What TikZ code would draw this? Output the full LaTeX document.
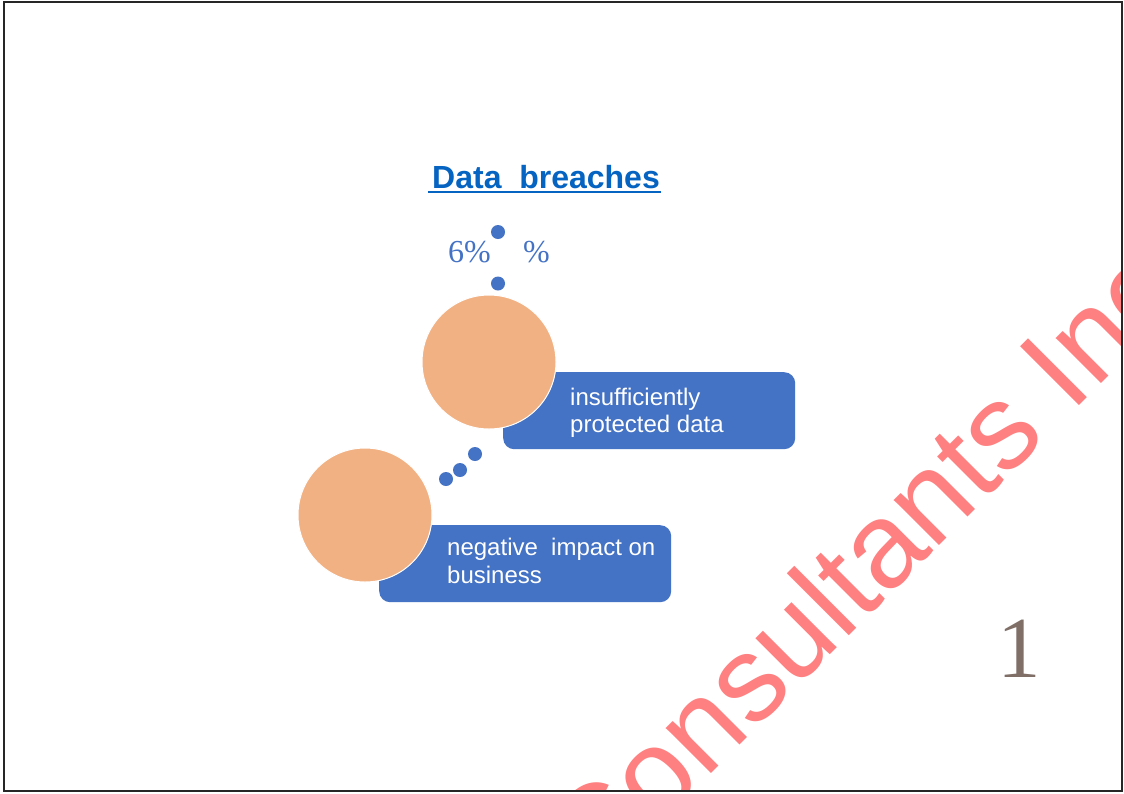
\documentclass[tikz,border=0pt]{standalone}
\usepackage{fontspec}
\setmainfont{Liberation Sans}
\newfontfamily\seriffam{Liberation Serif}
\definecolor{titleblue}{RGB}{5,99,193}
\definecolor{boxblue}{RGB}{68,114,196}
\definecolor{peach}{RGB}{242,177,131}
\definecolor{numgray}{RGB}{127,111,103}
\definecolor{wmred}{RGB}{255,128,128}
\tikzset{
  dot/.style={circle, fill=boxblue, minimum size=14pt, inner sep=0pt},
  bubble/.style={circle, fill=peach, draw=white, line width=1pt, minimum size=134pt, inner sep=0pt},
  tagbox/.style={rounded corners=11pt, fill=boxblue, minimum width=292pt, minimum height=77pt, inner sep=0pt, anchor=north west},
  boxtext/.style={text=white, font=\fontsize{24}{28}\selectfont, anchor=base west, inner sep=0pt},
  pct/.style={text=boxblue, font=\seriffam\fontsize{32}{36}\selectfont, anchor=base west, inner sep=0pt},
  wm/.style={text=wmred, font=\fontsize{121}{130}\selectfont, anchor=base west, inner sep=0pt, rotate=45}
}
\begin{document}
\begin{tikzpicture}[x=1pt,y=-1pt]
\useasboundingbox (0,0) rectangle (1124,793);
\fill[white] (0,0) rectangle (1124,793);
% title
\node[text=titleblue, font=\bfseries\fontsize{32}{36}\selectfont, anchor=base west, inner sep=0pt] (title) at (432,188) {Data\ \ breaches};
\draw[titleblue, line width=2.5pt] ([xshift=-4pt,yshift=-4pt]title.base west) -- ([xshift=1pt,yshift=-4pt]title.base east);
% percentages and dots
\node[pct] (p1) at (448,262) {6\%};
\node[pct] (p2) at (523,262) {\%};
\node[dot] (d1) at (498,232) {};
\node[dot] (d2) at (498,283.5) {};
\node[dot] (d3) at (475,454) {};
\node[dot] (d4) at (460,470) {};
\node[dot] (d5) at (446,479) {};
% boxes
\node[tagbox] (b1) at (503,372) {};
\node[tagbox] (b2) at (379,525) {};
\node[bubble] (c1) at (489,362) {};
\node[bubble] (c2) at (365,515) {};
\node[boxtext] (t1a) at (570,405) {insufficiently};
\node[boxtext] (t1b) at (570,432) {protected data};
\node[boxtext] (t2a) at (447,555) {negative\ \ impact on};
\node[boxtext] (t2b) at (447,583) {business};
% page number
\node[text=numgray, font=\seriffam\fontsize{87}{90}\selectfont, anchor=base west, inner sep=0pt] (num) at (997,677) {1};
% watermark
\begin{scope}
\clip (4,2) rectangle (1122,791);
\node[wm] (mark) at (596,889) {Consultants Inc};
\end{scope}
% frame
\draw[line width=2.5pt, black!85] (4,2) rectangle (1122,791);
\end{tikzpicture}
\end{document}
